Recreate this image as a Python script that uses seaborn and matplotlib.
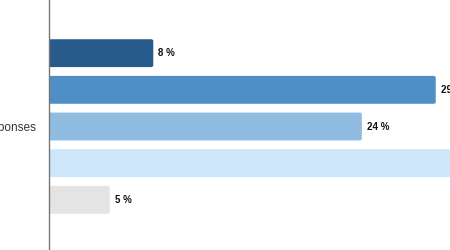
import matplotlib
matplotlib.use("Agg")
import matplotlib.pyplot as plt
import seaborn as sns
import pandas as pd
from matplotlib.patches import FancyBboxPatch

category = ["Responses"] * 5
answers = ["A", "B", "C", "D", "E"]
values = [7.9, 29.3, 23.7, 34.5, 4.6]
labels = ["8 %", "29 %", "24 %", "34 %", "5 %"]
colors = ["#285a8b", "#4f8fc6", "#8fbce0", "#cde6f9", "#e4e4e4"]

sns.set_theme(style="white")
plt.rcParams["font.family"] = ["Liberation Sans", "DejaVu Sans"]

df = pd.DataFrame({"group": category, "answer": answers, "value": values})

fig = plt.figure(figsize=(4.5, 2.5), dpi=100)
ax = fig.add_axes([49 / 450, -14 / 250, 528 / 450, 275 / 250])

sns.barplot(data=df, x="value", y="group", hue="answer", palette=colors,
            orient="h", gap=0.24, legend=False, ax=ax, saturation=1)

ax.set_xlim(0, 40)
ax.set_ylim(0.6, -0.6)

# round bar corners (about 2 px)
px_per_x = 528 / 40
px_per_y = 275 / 1.2
bars = list(ax.patches)
for p in bars:
    x0, y0 = p.get_x(), p.get_y()
    w, h = p.get_width(), p.get_height()
    fc = p.get_facecolor()
    p.set_visible(False)
    fb = FancyBboxPatch((x0, y0), w, h,
                        boxstyle="round,pad=0,rounding_size=%f" % (2 / px_per_x),
                        mutation_aspect=px_per_x / px_per_y,
                        facecolor=fc, edgecolor="none", zorder=2)
    ax.add_patch(fb)

for p, lab in zip(bars, labels):
    ax.annotate(lab, (p.get_x() + p.get_width(), p.get_y() + p.get_height() / 2),
                xytext=(5, 0), textcoords="offset pixels",
                ha="left", va="center", fontsize=7, fontweight="bold", color="#111111")

ax.set_xlabel("")
ax.set_ylabel("")
ax.set_xticks([])
ax.tick_params(axis="y", length=0, pad=9.5, labelsize=8.5, labelcolor="#333333")
for s in ["top", "right", "bottom"]:
    ax.spines[s].set_visible(False)
ax.spines["left"].set_color("#777777")
ax.spines["left"].set_linewidth(1.0)

fig.savefig("out.png", dpi=100)
